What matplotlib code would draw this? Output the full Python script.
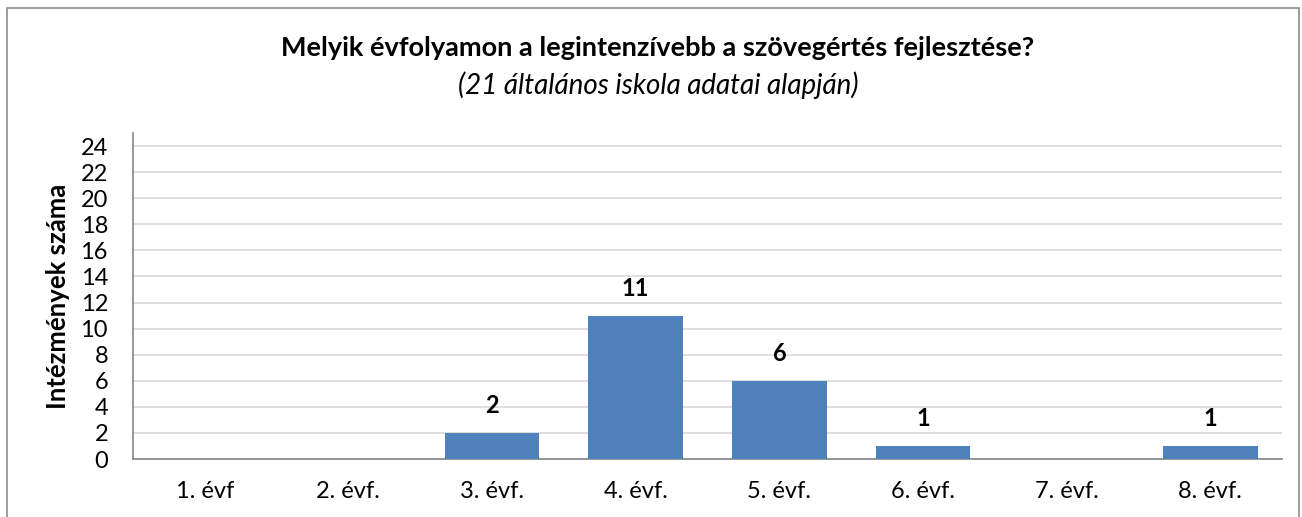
import matplotlib
matplotlib.use("Agg")
import matplotlib.pyplot as plt
from matplotlib.patches import Rectangle

categories = ["1. évf", "2. évf.", "3. évf.", "4. évf.", "5. évf.", "6. évf.", "7. évf.", "8. évf."]
values = [0, 0, 2, 11, 6, 1, 0, 1]
yticks = list(range(0, 25, 2))

title = "Melyik évfolyamon a legintenzívebb a szövegértés fejlesztése?"
subtitle = "(21 általános iskola adatai alapján)"
ylabel = "Intézmények száma"

BAR = "#4F81BD"
GRID = "#D9D9D9"
AXIS = "#868686"

plt.rcParams["font.family"] = ["Lato", "DejaVu Sans"]

W, H = 1302, 517
fig = plt.figure(figsize=(W / 100, H / 100), dpi=100)
ax = fig.add_axes([133 / W, 1 - 459 / H, (1282 - 133) / W, (459 - 133) / H])

x = list(range(len(categories)))
ax.bar(x, values, width=0.66, color=BAR, zorder=3)
for xi, v in zip(x, values):
    if v > 0:
        ax.text(xi, v + 1.5, str(v), ha="center", va="baseline",
                fontsize=17, fontweight="bold", color="black")

ax.set_xlim(-0.5, len(categories) - 0.5)
ax.set_ylim(0, 25)
ax.set_yticks(yticks)
ax.set_xticks(x)
ax.set_xticklabels(categories, fontsize=17)
ax.tick_params(axis="y", labelsize=17, length=0, pad=18)
ax.tick_params(axis="x", length=0, pad=16)
ax.yaxis.grid(True, color=GRID, linewidth=1.2, zorder=0)
for s in ["top", "right"]:
    ax.spines[s].set_visible(False)
for s in ["left", "bottom"]:
    ax.spines[s].set_color(AXIS)
    ax.spines[s].set_linewidth(1.2)
ax.set_ylabel(ylabel, fontsize=18.5, fontweight="bold")
ax.yaxis.set_label_coords(-63 / (1282 - 133), 0.5)

fig.text(658 / W, 1 - 56 / H, title, ha="center", va="baseline",
         fontsize=19.5, fontweight="bold")
fig.text(658 / W, 1 - 94 / H, subtitle, ha="center", va="baseline",
         fontsize=20, style="italic")

fig.patches.append(Rectangle((7 / W, -0.1), (1299 - 7) / W, 1 - 8 / H + 0.1,
                             transform=fig.transFigure, fill=False,
                             edgecolor="#8C8C8C", linewidth=1.2))

fig.savefig("out.png", dpi=100)
